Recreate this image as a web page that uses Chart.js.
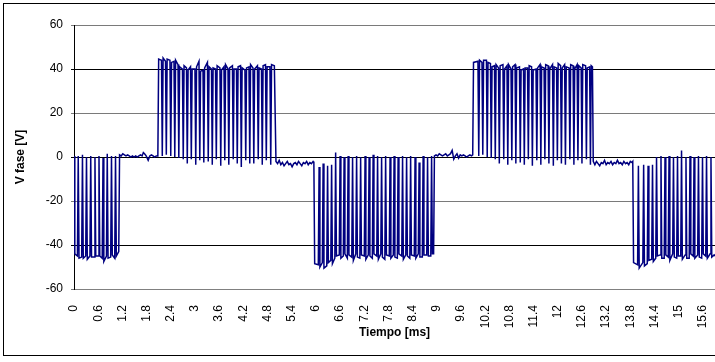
<!DOCTYPE html>
<html>
<head>
<meta charset="utf-8">
<title>V fase</title>
<script src="https://cdn.jsdelivr.net/npm/chart.js@4.4.1/dist/chart.umd.min.js"></script>
<style>
  html, body { margin: 0; padding: 0; background: #fff; }
  canvas { display: block; }
</style>
</head>
<body>
<canvas id="faseChart" width="715" height="362"></canvas>
<script>
// Tiempo [ms] de cada muestra de la tensión de fase
const tiempo = [
    // bloque negativo
    0, 0.02, 0.085, 0.105, 0.125, 0.19, 0.21, 0.23, 0.29, 0.31, 0.33, 0.395, 0.415, 0.435,
    0.5, 0.52, 0.54, 0.6, 0.62, 0.64, 0.7, 0.72, 0.74, 0.805, 0.825, 0.845, 0.91, 0.93, 0.95,
    1.01, 1.03, 1.05, 1.11, 1.13,
    // tramo en cero
    1.17, 1.21, 1.25, 1.29, 1.33, 1.37, 1.41, 1.45, 1.49, 1.53, 1.57, 1.61, 1.65, 1.69, 1.72,
    1.75, 1.79, 1.84, 1.88, 1.92, 1.96, 2.0, 2.04, 2.08,
    // bloque positivo
    2.1,
    2.17, 2.19, 2.21, 2.27, 2.29, 2.31, 2.38, 2.4, 2.42, 2.48, 2.5, 2.52, 2.58, 2.6, 2.62,
    2.69, 2.71, 2.73, 2.79, 2.81, 2.83, 2.89, 2.91, 2.93, 3.0, 3.02, 3.04, 3.1, 3.12, 3.14,
    3.2, 3.22, 3.24, 3.31, 3.33, 3.35, 3.41, 3.43, 3.45, 3.51, 3.53, 3.55, 3.62, 3.64, 3.66,
    3.72, 3.74, 3.76, 3.82, 3.84, 3.86, 3.93, 3.95, 3.97, 4.03, 4.05, 4.07, 4.13, 4.15, 4.17,
    4.24, 4.26, 4.28, 4.34, 4.36, 4.38, 4.44, 4.46, 4.48, 4.55, 4.57, 4.59, 4.65, 4.67, 4.69,
    4.75, 4.77, 4.79, 4.86, 4.88, 4.9,
    4.97, 5.01,
    // tramo en cero
    5.05, 5.09, 5.13, 5.17, 5.21, 5.25, 5.29, 5.33, 5.37, 5.41, 5.45, 5.49, 5.53, 5.57, 5.61,
    5.65, 5.69, 5.73, 5.77, 5.81, 5.85, 5.89, 5.93, 5.95,
    // bloque negativo
    5.97,
    6.06, 6.08, 6.1, 6.16, 6.18, 6.2, 6.27, 6.29, 6.31, 6.37, 6.39, 6.41, 6.47, 6.49, 6.51,
    6.58, 6.6, 6.62, 6.68, 6.7, 6.72, 6.78, 6.8, 6.82, 6.89, 6.91, 6.93, 6.99, 7.01, 7.03,
    7.09, 7.11, 7.13, 7.2, 7.22, 7.24, 7.3, 7.32, 7.34, 7.4, 7.42, 7.44, 7.51, 7.53, 7.55,
    7.61, 7.63, 7.65, 7.71, 7.73, 7.75, 7.82, 7.84, 7.86, 7.92, 7.94, 7.96, 8.02, 8.04, 8.06,
    8.13, 8.15, 8.17, 8.23, 8.25, 8.27, 8.33, 8.35, 8.37, 8.44, 8.46, 8.48, 8.54, 8.56, 8.58,
    8.64, 8.66, 8.68, 8.75, 8.77, 8.79, 8.85, 8.87, 8.89,
    8.92, 8.94,
    // tramo en cero
    8.98, 9.02, 9.06, 9.1, 9.14, 9.18, 9.22, 9.26, 9.3, 9.34, 9.38, 9.42, 9.46, 9.5, 9.54,
    9.58, 9.62, 9.66, 9.7, 9.74, 9.78, 9.82, 9.86, 9.89,
    // bloque positivo
    9.91,
    10.02, 10.04, 10.06, 10.12, 10.14, 10.16, 10.23, 10.25, 10.27, 10.33, 10.35, 10.37,
    10.43, 10.45, 10.47, 10.53, 10.55, 10.57, 10.64, 10.66, 10.68, 10.74, 10.76, 10.78,
    10.84, 10.86, 10.88, 10.94, 10.96, 10.98, 11.05, 11.07, 11.09, 11.15, 11.17, 11.19,
    11.25, 11.27, 11.29, 11.35, 11.37, 11.39, 11.46, 11.48, 11.5, 11.56, 11.58, 11.6,
    11.66, 11.68, 11.7, 11.76, 11.78, 11.8, 11.87, 11.89, 11.91, 11.97, 11.99, 12.01,
    12.07, 12.09, 12.11, 12.17, 12.19, 12.21, 12.28, 12.3, 12.32, 12.38, 12.4, 12.42,
    12.48, 12.5, 12.52, 12.58, 12.6, 12.62, 12.69, 12.71, 12.73, 12.79, 12.81, 12.83,
    12.86, 12.88,
    // tramo en cero
    12.92, 12.96, 13.0, 13.04, 13.08, 13.12, 13.16, 13.2, 13.24, 13.28, 13.32, 13.36, 13.4,
    13.44, 13.48, 13.52, 13.56, 13.6, 13.64, 13.68, 13.72, 13.76, 13.8, 13.84, 13.86,
    // bloque negativo
    13.88,
    13.98, 14.0, 14.02, 14.11, 14.13, 14.15, 14.22, 14.24, 14.26, 14.33, 14.35, 14.37,
    14.43, 14.45, 14.47, 14.54, 14.56, 14.58, 14.64, 14.66, 14.68, 14.74, 14.76, 14.78,
    14.85, 14.87, 14.89, 14.95, 14.97, 14.99, 15.05, 15.07, 15.09, 15.16, 15.18, 15.2,
    15.26, 15.28, 15.3, 15.36, 15.38, 15.4, 15.47, 15.49, 15.51, 15.57, 15.59, 15.61,
    15.67, 15.69, 15.71, 15.78, 15.8, 15.82,
    15.88, 15.9
];

// V fase [V] en cada muestra
const vfase = [
    0.5, -44, -45, 0.5, -46, -45.5, 1, -46, -45, 0, -46.5, -45, 0.5, -45.5,
    -45.5, 0, -45, -45, 0.5, -45, -46, -0.5, -47.5, -45, 1.5, -46, -45.5, 0.5, -44.5,
    -46, 0.5, -45, -43, 1,

    0.5, 1.5, 1, 0.5, 1, 0.5, 0, 0.5, 0, 0.5, 0, 0.5, 1, 0.5, 2,
    1.5, 0.5, -1.5, 0.5, 1, 0.5, 0, 0.5, 0.5,

    44.5,
    44, 0.5, 45, 43.5, 1, 44.5, 44, 0.5, 43, 43.5, 0, 44, 42, -0.5, 41,
    40, -1, 41.5, 40.5, -3, 39.5, 41, -1, 40, 40, -3.5, 41, 43.5, -1.5, 39,
    39.5, -2.5, 40.5, 43, -2, 41, 40, -3.5, 40.5, 40, -1, 41.5, 40.5, -4, 39.5,
    41, -1.5, 42, 40, -3.5, 40.5, 41.5, -1, 40, 40, -3, 41, 41.5, -4.5, 40.5,
    39.5, -1.5, 40.5, 41, -3, 42, 40.5, -3, 40, 41.5, -1, 40.5, 40, -3.5, 41.5,
    42, -1.5, 41, 41, -3.5, 42,
    41.5, -2,

    -3, -1.5, -3.5, -2.5, -4, -3, -2, -3.5, -3, -4.5, -3, -2.5, -3.5, -2, -3,
    -4, -2.5, -3, -2, -3.5, -2.5, -3, -2, -2.5,

    -48.5,
    -49, -4.5, -50, -48, -3, -50.5, -49.5, -4, -48, -47, -3.5, -48.5, -46, 2, -45,
    -44.5, 0.5, -46, -45, 0, -44, -46, 0.5, -44.5, -45.5, 0, -47, -44, 0.5, -45.5,
    -46, 0, -44.5, -45, 0.5, -46.5, -44.5, 0, -45, -46, 1, -44, -45, 0.5, -46.5,
    -44, 0, -45.5, -46.5, 0.5, -44.5, -45, 0, -46, -44.5, 0.5, -45.5, -46, 0, -44,
    -45, 0.5, -46.5, -44.5, 0, -45, -46, 0.5, -44.5, -45, 0, -46, -44, -2.5, -45.5,
    -45.5, 0.5, -44.5, -44.5, 0, -45, -45, 0.5, -44,
    -44, 0.5,

    1, 0.5, 1.5, 1, 0.5, 1, 1.5, 0.5, 1, 1.5, 3, -1, 0.5, 1.5, -0.5,
    1, 0.5, 1, 0.5, 0, 0.5, 1, 0.5, 1,

    43,
    43.5, 0.5, 44, 43, 1, 44, 44, 0, 43, 42.5, -0.5, 41,
    41.5, -1, 42, 40.5, -3, 41.5, 42, -1, 40, 41.5, -3.5, 42,
    40, -1.5, 41, 42, -3, 40.5, 41, -2.5, 39.5, 40, -3.5, 40.5,
    40.5, -1, 41.5, 41, -4, 39.5, 40, -1.5, 40.5, 42, -3.5, 41,
    40.5, -1, 42, 41.5, -3, 40, 42, -4, 41, 40.5, -1.5, 42.5,
    41.5, -3, 40.5, 42, -3.5, 41, 40.5, -1, 42, 41.5, -3.5, 40,
    42, -1.5, 41.5, 40.5, -3, 42, 41.5, -1, 40.5, 41, -3.5, 41.5,
    41, -2,

    -3.5, -2, -3, -4, -2.5, -3, -1.5, -3.5, -2.5, -3, -2, -3.5, -2.5,
    -3, -1.5, -3, -2.5, -3.5, -2, -3, -2.5, -3.5, -2, -2.5, -2,

    -48,
    -49, -4, -50.5, -48, -3.5, -49.5, -48.5, -4, -47, -46.5, -3.5, -47.5,
    -46, 0, -45, -44.5, 0.5, -46, -46, 0, -44.5, -45.5, 0.5, -47,
    -44, 0, -45.5, -46, 0.5, -45, -45, 3, -46.5, -44.5, 0, -46,
    -46, 0.5, -44, -45, 0, -46, -44.5, 0.5, -45.5, -46, 0, -44,
    -45, 0.5, -46, -44, 0, -45.5,
    -44.5, -45
];

// Marcas de los ejes
const xTicks = [0, 0.6, 1.2, 1.8, 2.4, 3, 3.6, 4.2, 4.8, 5.4, 6, 6.6, 7.2, 7.8, 8.4, 9,
    9.6, 10.2, 10.8, 11.4, 12, 12.6, 13.2, 13.8, 14.4, 15, 15.6];
const yTicks = [-60, -40, -20, 0, 20, 40, 60];

const puntos = tiempo.map((t, i) => ({ x: t, y: vfase[i] }));

Chart.defaults.font.family = "'Liberation Sans', Arial, sans-serif";
Chart.defaults.font.size = 12;
Chart.defaults.color = '#000';

// marco exterior del gráfico
const marco = {
    id: 'marco',
    beforeDraw(chart) {
        const ctx = chart.ctx;
        ctx.save();
        ctx.strokeStyle = '#000';
        ctx.lineWidth = 1;
        ctx.strokeRect(3.5, 3.5, chart.width + 10, 352);
        ctx.restore();
    }
};

function colorRejilla(ctx) {
    const v = ctx.tick ? ctx.tick.value : 0;
    if (v === 0 || v === 40 || v === -40) return '#000';
    return '#7a7a7a';
}

new Chart(document.getElementById('faseChart'), {
    type: 'line',
    data: {
        datasets: [{
            label: 'V fase',
            data: puntos,
            borderColor: '#000080',
            borderWidth: 1.5,
            pointRadius: 0,
            tension: 0,
            fill: false
        }]
    },
    options: {
        responsive: false,
        animation: false,
        events: [],
        layout: { padding: { top: 25, right: 0, bottom: 0, left: 0 } },
        plugins: {
            legend: { display: false },
            tooltip: { enabled: false }
        },
        scales: {
            x: {
                type: 'linear',
                min: 0,
                max: 15.9,
                afterFit: s => {
                    s.height = 73;
                    s.paddingLeft = 0;
                    s.paddingRight = 0;
                },
                afterBuildTicks: s => { s.ticks = xTicks.map(v => ({ value: v })); },
                grid: { display: false },
                border: { display: true, color: '#808080', width: 1 },
                ticks: {
                    autoSkip: false,
                    minRotation: 90,
                    maxRotation: 90,
                    padding: 8,
                    callback: v => String(v)
                },
                title: {
                    display: true,
                    text: 'Tiempo [ms]',
                    font: { weight: 'bold', size: 12 },
                    padding: { top: 0, bottom: 22 }
                }
            },
            y: {
                min: -60,
                max: 60,
                afterFit: s => {
                    s.width = 74;
                    s.paddingTop = 0;
                    s.paddingBottom = 0;
                },
                afterBuildTicks: s => { s.ticks = yTicks.map(v => ({ value: v })); },
                grid: {
                    color: colorRejilla,
                    lineWidth: 1,
                    tickLength: 3
                },
                border: { display: true, color: '#000', width: 1 },
                ticks: { padding: 8 },
                title: {
                    display: true,
                    text: 'V fase [V]',
                    font: { weight: 'bold', size: 12 },
                    padding: { top: 13, bottom: 0 }
                }
            }
        }
    },
    plugins: [marco]
});
</script>
</body>
</html>
